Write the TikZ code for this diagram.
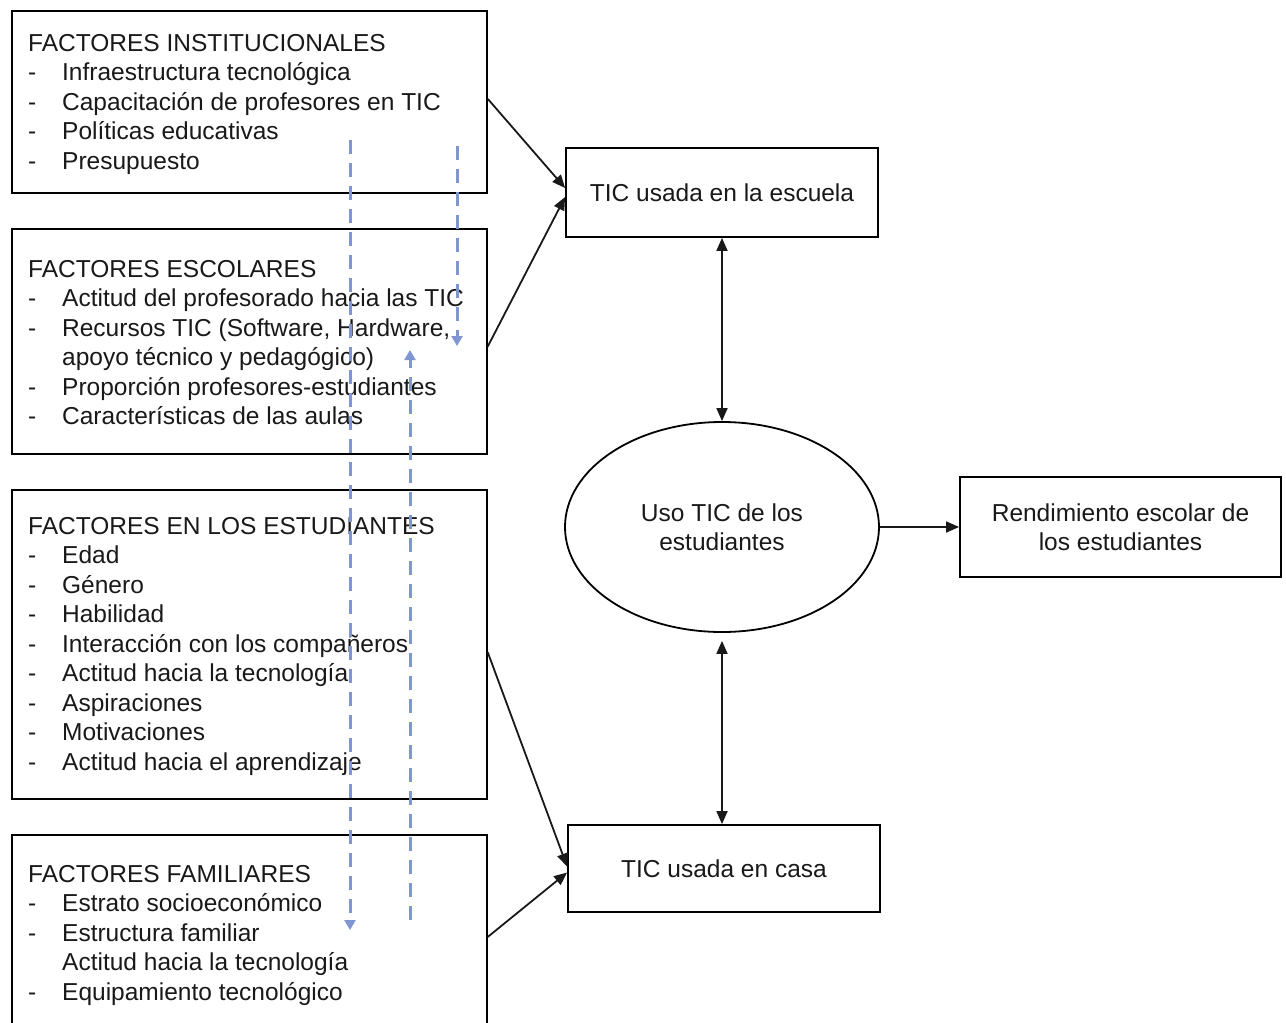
\documentclass[tikz,border=0pt]{standalone}
\usepackage{fontspec}
\setmainfont{Liberation Sans}
\usetikzlibrary{shapes.geometric,arrows.meta}
\definecolor{txt}{RGB}{25,25,25}
\definecolor{dashblue}{RGB}{128,150,208}
\newcommand{\itm}{\makebox[34pt][l]{-}}
\newcommand{\noitm}{\hspace*{34pt}}
\begin{document}
\begin{tikzpicture}[x=1pt,y=-1pt,
  every node/.style={text=txt},
  fbox/.style={draw=black,line width=1.8pt,rectangle,anchor=north west,inner sep=0pt},
  ftext/.style={anchor=north west,inner sep=0pt,align=left,font={\fontsize{24.5}{29.5}\selectfont}},
  rbox/.style={draw=black,line width=1.8pt,rectangle,inner sep=0pt,align=center,font={\fontsize{24.5}{29.5}\selectfont}},
  arr/.style={line width=1.8pt,draw=black!90,-{Triangle[length=13pt,width=11pt]}},
  darr/.style={line width=1.8pt,draw=black!90,{Triangle[length=13pt,width=11pt]}-{Triangle[length=13pt,width=11pt]}},
  dline/.style={draw=dashblue,line width=3pt,dash pattern=on 14pt off 9pt,-{Triangle[length=10pt,width=11pt]}}]
\useasboundingbox (0,0) rectangle (1286,1023);
\clip (0,0) rectangle (1286,1023);
\fill[white] (0,0) rectangle (1286,1023);

% factor boxes
\node[fbox,minimum width=475pt,minimum height=182pt] (b1) at (11,10) {};
\node[fbox,minimum width=475pt,minimum height=225pt] (b2) at (11,228) {};
\node[fbox,minimum width=475pt,minimum height=309pt] (b3) at (11,489) {};
\node[fbox,minimum width=475pt,minimum height=200pt] (b4) at (11,834) {};

\node[ftext] (t1) at (28,30.5) {\strut FACTORES INSTITUCIONALES\\
\itm Infraestructura tecnológica\\
\itm Capacitación de profesores en TIC\\
\itm Políticas educativas\\
\itm Presupuesto};
\node[ftext] (t2) at (28,256.5) {\strut FACTORES ESCOLARES\\
\itm Actitud del profesorado hacia las TIC\\
\itm Recursos TIC (Software, Hardware,\\
\noitm apoyo técnico y pedagógico)\\
\itm Proporción profesores-estudiantes\\
\itm Características de las aulas};
\node[ftext] (t3) at (28,513.5) {\strut FACTORES EN LOS ESTUDIANTES\\
\itm Edad\\
\itm Género\\
\itm Habilidad\\
\itm Interacción con los compañeros\\
\itm Actitud hacia la tecnología\\
\itm Aspiraciones\\
\itm Motivaciones\\
\itm Actitud hacia el aprendizaje};
\node[ftext] (t4) at (28,861.5) {\strut FACTORES FAMILIARES\\
\itm Estrato socioeconómico\\
\itm Estructura familiar\\
\noitm Actitud hacia la tecnología\\
\itm Equipamiento tecnológico};

% right side
\node[rbox,minimum width=312pt,minimum height=89pt] (esc) at (722,192.5) {TIC usada en la escuela};
\node[draw=black,line width=1.8pt,ellipse,minimum width=314pt,minimum height=210pt,inner sep=0pt,align=center,font={\fontsize{24.5}{29.5}\selectfont}] (uso) at (722,527) {Uso TIC de los\\estudiantes};
\node[rbox,minimum width=321pt,minimum height=100pt] (rend) at (1120.5,527) {Rendimiento escolar de\\los estudiantes};
\node[rbox,minimum width=312pt,minimum height=87pt] (casa) at (724,868.5) {TIC usada en casa};

% connectors
\draw[arr] ([yshift=3pt]b1.east) -- ([yshift=4.5pt]esc.west);
\draw[arr] ([yshift=-5pt]b2.east) -- ([yshift=-4.5pt]esc.west);
\draw[arr] ([yshift=-8pt]b3.east) -- ([yshift=2pt]casa.west);
\draw[arr] ([yshift=-2pt]b4.east) -- ([yshift=-4pt]casa.west);
\draw[darr] (esc.south) -- (uso.north);
\draw[darr,shorten <=8pt] (uso.south) -- (uso.south |- casa.north);
\draw[arr] (uso.east) -- (rend.west);

% dashed blue lines
\coordinate (d1s) at (350,140);
\coordinate (d1e) at (350,930);
\coordinate (d2s) at (457,146);
\coordinate (d2e) at (457,346);
\coordinate (d3s) at (410,920);
\coordinate (d3e) at (410,350);
\draw[dline] (d1s) -- (d1e);
\draw[dline] (d2s) -- (d2e);
\draw[dline] (d3s) -- (d3e);
\end{tikzpicture}
\end{document}
